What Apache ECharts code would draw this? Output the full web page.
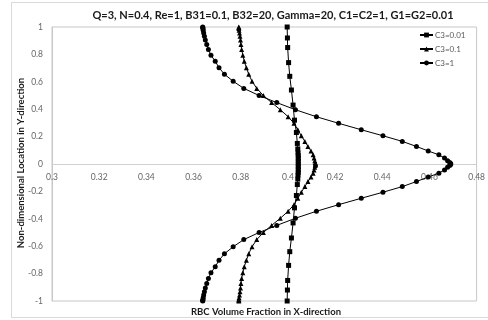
<!DOCTYPE html>
<html>
<head>
<meta charset="utf-8">
<script src="https://cdn.jsdelivr.net/npm/echarts@6/dist/echarts.min.js"></script>
<style>
  html, body { margin: 0; padding: 0; background: #fff; }
  #chart-container { width: 488px; height: 320px; }
</style>
</head>
<body>
<div id="chart-container"></div>
<script>
// shared y locations (C3=0.1 and C3=1)
var yGrid = [-1, -0.997, -0.989, -0.976, -0.957, -0.933, -0.905, -0.872, -0.835, -0.794,
  -0.75, -0.703, -0.655, -0.604, -0.552, -0.5, -0.448, -0.396, -0.345, -0.297,
  -0.25, -0.206, -0.165, -0.128, -0.095, -0.067, -0.043, -0.024, -0.011, -0.003,
  0,
  0.003, 0.011, 0.024, 0.043, 0.067, 0.095, 0.128, 0.165, 0.206, 0.25,
  0.297, 0.345, 0.396, 0.448, 0.5, 0.552, 0.604, 0.655, 0.703, 0.75,
  0.794, 0.835, 0.872, 0.905, 0.933, 0.957, 0.976, 0.989, 0.997, 1];

var xC3_1 = [0.3639, 0.3639, 0.3640, 0.3641, 0.3643, 0.3646, 0.3650, 0.3656, 0.3663, 0.3674,
  0.3692, 0.3708, 0.3731, 0.3768, 0.3813, 0.3878, 0.3953, 0.4032, 0.4121, 0.4215,
  0.4311, 0.4403, 0.4485, 0.4545, 0.4595, 0.4640, 0.4664, 0.4677, 0.4686, 0.4690,
  0.4690,
  0.4690, 0.4686, 0.4677, 0.4664, 0.4640, 0.4595, 0.4545, 0.4485, 0.4403, 0.4311,
  0.4215, 0.4121, 0.4032, 0.3953, 0.3878, 0.3813, 0.3768, 0.3731, 0.3708, 0.3692,
  0.3674, 0.3663, 0.3656, 0.3650, 0.3646, 0.3643, 0.3641, 0.3640, 0.3639, 0.3639];

var xC3_01 = [0.3792, 0.3792, 0.3792, 0.3793, 0.3795, 0.3797, 0.3799, 0.3801, 0.3804, 0.3809,
  0.3815, 0.3824, 0.3834, 0.3848, 0.3868, 0.3896, 0.3931, 0.3968, 0.4001, 0.4026,
  0.4042, 0.4057, 0.4072, 0.4085, 0.4098, 0.4107, 0.4111, 0.4114, 0.4116, 0.4117,
  0.4117,
  0.4117, 0.4116, 0.4114, 0.4111, 0.4107, 0.4098, 0.4085, 0.4072, 0.4057, 0.4042,
  0.4026, 0.4001, 0.3968, 0.3931, 0.3896, 0.3868, 0.3848, 0.3834, 0.3824, 0.3815,
  0.3809, 0.3804, 0.3801, 0.3799, 0.3797, 0.3795, 0.3793, 0.3792, 0.3792, 0.3792];

// C3=0.01 has its own y locations
var ySq = [-1, -0.92, -0.85, -0.74, -0.64, -0.54, -0.43, -0.32, -0.23, -0.15, -0.11, -0.08, -0.06, -0.04, -0.02,
  0,
  0.02, 0.04, 0.06, 0.08, 0.11, 0.15, 0.23, 0.32, 0.43, 0.54, 0.64, 0.74, 0.85, 0.92, 1];
var xC3_001 = [0.3997, 0.3998, 0.3999, 0.4003, 0.4008, 0.4015, 0.4022, 0.4028, 0.4036, 0.4040, 0.4042, 0.4043, 0.4044, 0.4044, 0.4044,
  0.4044,
  0.4044, 0.4044, 0.4044, 0.4043, 0.4042, 0.4040, 0.4036, 0.4028, 0.4022, 0.4015, 0.4008, 0.4003, 0.3999, 0.3998, 0.3997];

var seriesNames = ['C3=0.01', 'C3=0.1', 'C3=1'];
var titleText = 'Q=3, N=0.4, Re=1, B31=0.1, B32=20, Gamma=20, C1=C2=1, G1=G2=0.01';
var xName = 'RBC Volume Fraction in X-direction';
var yName = 'Non-dimensional Location in Y-direction';

function pairs(xs, ys) {
  return xs.map(function (x, i) { return [x, ys[i]]; });
}

var dom = document.getElementById('chart-container');
var myChart = echarts.init(dom, null, { renderer: 'canvas' });

var font = 'Lato, "Open Sans", sans-serif';
var gridTop = 27, gridBottom = 19;
// x axis sits on y = 0, which is the middle of the plot
var zeroOffset = -(320 - gridTop - gridBottom) / 2;

var option = {
  animation: false,
  textStyle: { fontFamily: font },
  legend: {
    orient: 'vertical',
    left: 419,
    top: 31,
    padding: 0,
    itemWidth: 13,
    itemHeight: 6,
    itemGap: 6,
    textStyle: { fontSize: 8, color: '#595959', padding: [0, 0, 0, -3] },
    data: seriesNames
  },
  grid: {
    left: 52,
    right: 5,
    top: gridTop,
    bottom: gridBottom,
    show: true,
    borderColor: '#c8c8c8',
    borderWidth: 1
  },
  xAxis: {
    type: 'value',
    min: 0.3,
    max: 0.48,
    interval: 0.02,
    position: 'bottom',
    offset: zeroOffset,
    axisLine: { onZero: false, lineStyle: { color: '#d0d0d0' } },
    axisTick: { show: false },
    splitLine: { show: false },
    axisLabel: { fontSize: 8.5, color: '#666', margin: 9, showMinLabel: true, showMaxLabel: true }
  },
  yAxis: {
    type: 'value',
    min: -1,
    max: 1,
    interval: 0.2,
    axisLine: { show: true, onZero: false, lineStyle: { color: '#c8c8c8' } },
    axisTick: { show: false },
    splitLine: { show: false },
    axisLabel: { fontSize: 8.5, color: '#666', margin: 9 }
  },
  graphic: [
    {
      type: 'rect', z: -10, silent: true,
      shape: { x: 11.5, y: 2.5, width: 485, height: 315 },
      style: { fill: 'none', stroke: '#d9d9d9', lineWidth: 1 }
    },
    {
      type: 'text', x: 273, y: 15,
      style: { text: titleText, fill: '#1a1a1a', font: 'bold 11px ' + font, textAlign: 'center', textVerticalAlign: 'middle' }
    },
    {
      type: 'text', x: 266, y: 312,
      style: { text: xName, fill: '#1a1a1a', font: 'bold 9.5px ' + font, textAlign: 'center', textVerticalAlign: 'middle' }
    },
    {
      type: 'text', x: 21, y: 163, rotation: Math.PI / 2,
      style: { text: yName, fill: '#1a1a1a', font: 'bold 9.5px ' + font, textAlign: 'center', textVerticalAlign: 'middle' }
    }
  ],
  series: [
    {
      name: seriesNames[0], type: 'line', data: pairs(xC3_001, ySq),
      symbol: 'rect', symbolSize: 5,
      lineStyle: { color: '#000', width: 1 }, itemStyle: { color: '#000' }
    },
    {
      name: seriesNames[1], type: 'line', data: pairs(xC3_01, yGrid),
      symbol: 'triangle', symbolSize: 5,
      lineStyle: { color: '#000', width: 1 }, itemStyle: { color: '#000' }
    },
    {
      name: seriesNames[2], type: 'line', data: pairs(xC3_1, yGrid),
      symbol: 'circle', symbolSize: 5,
      lineStyle: { color: '#000', width: 1 }, itemStyle: { color: '#000' }
    }
  ]
};

myChart.setOption(option);
window.addEventListener('resize', myChart.resize);
</script>
</body>
</html>
